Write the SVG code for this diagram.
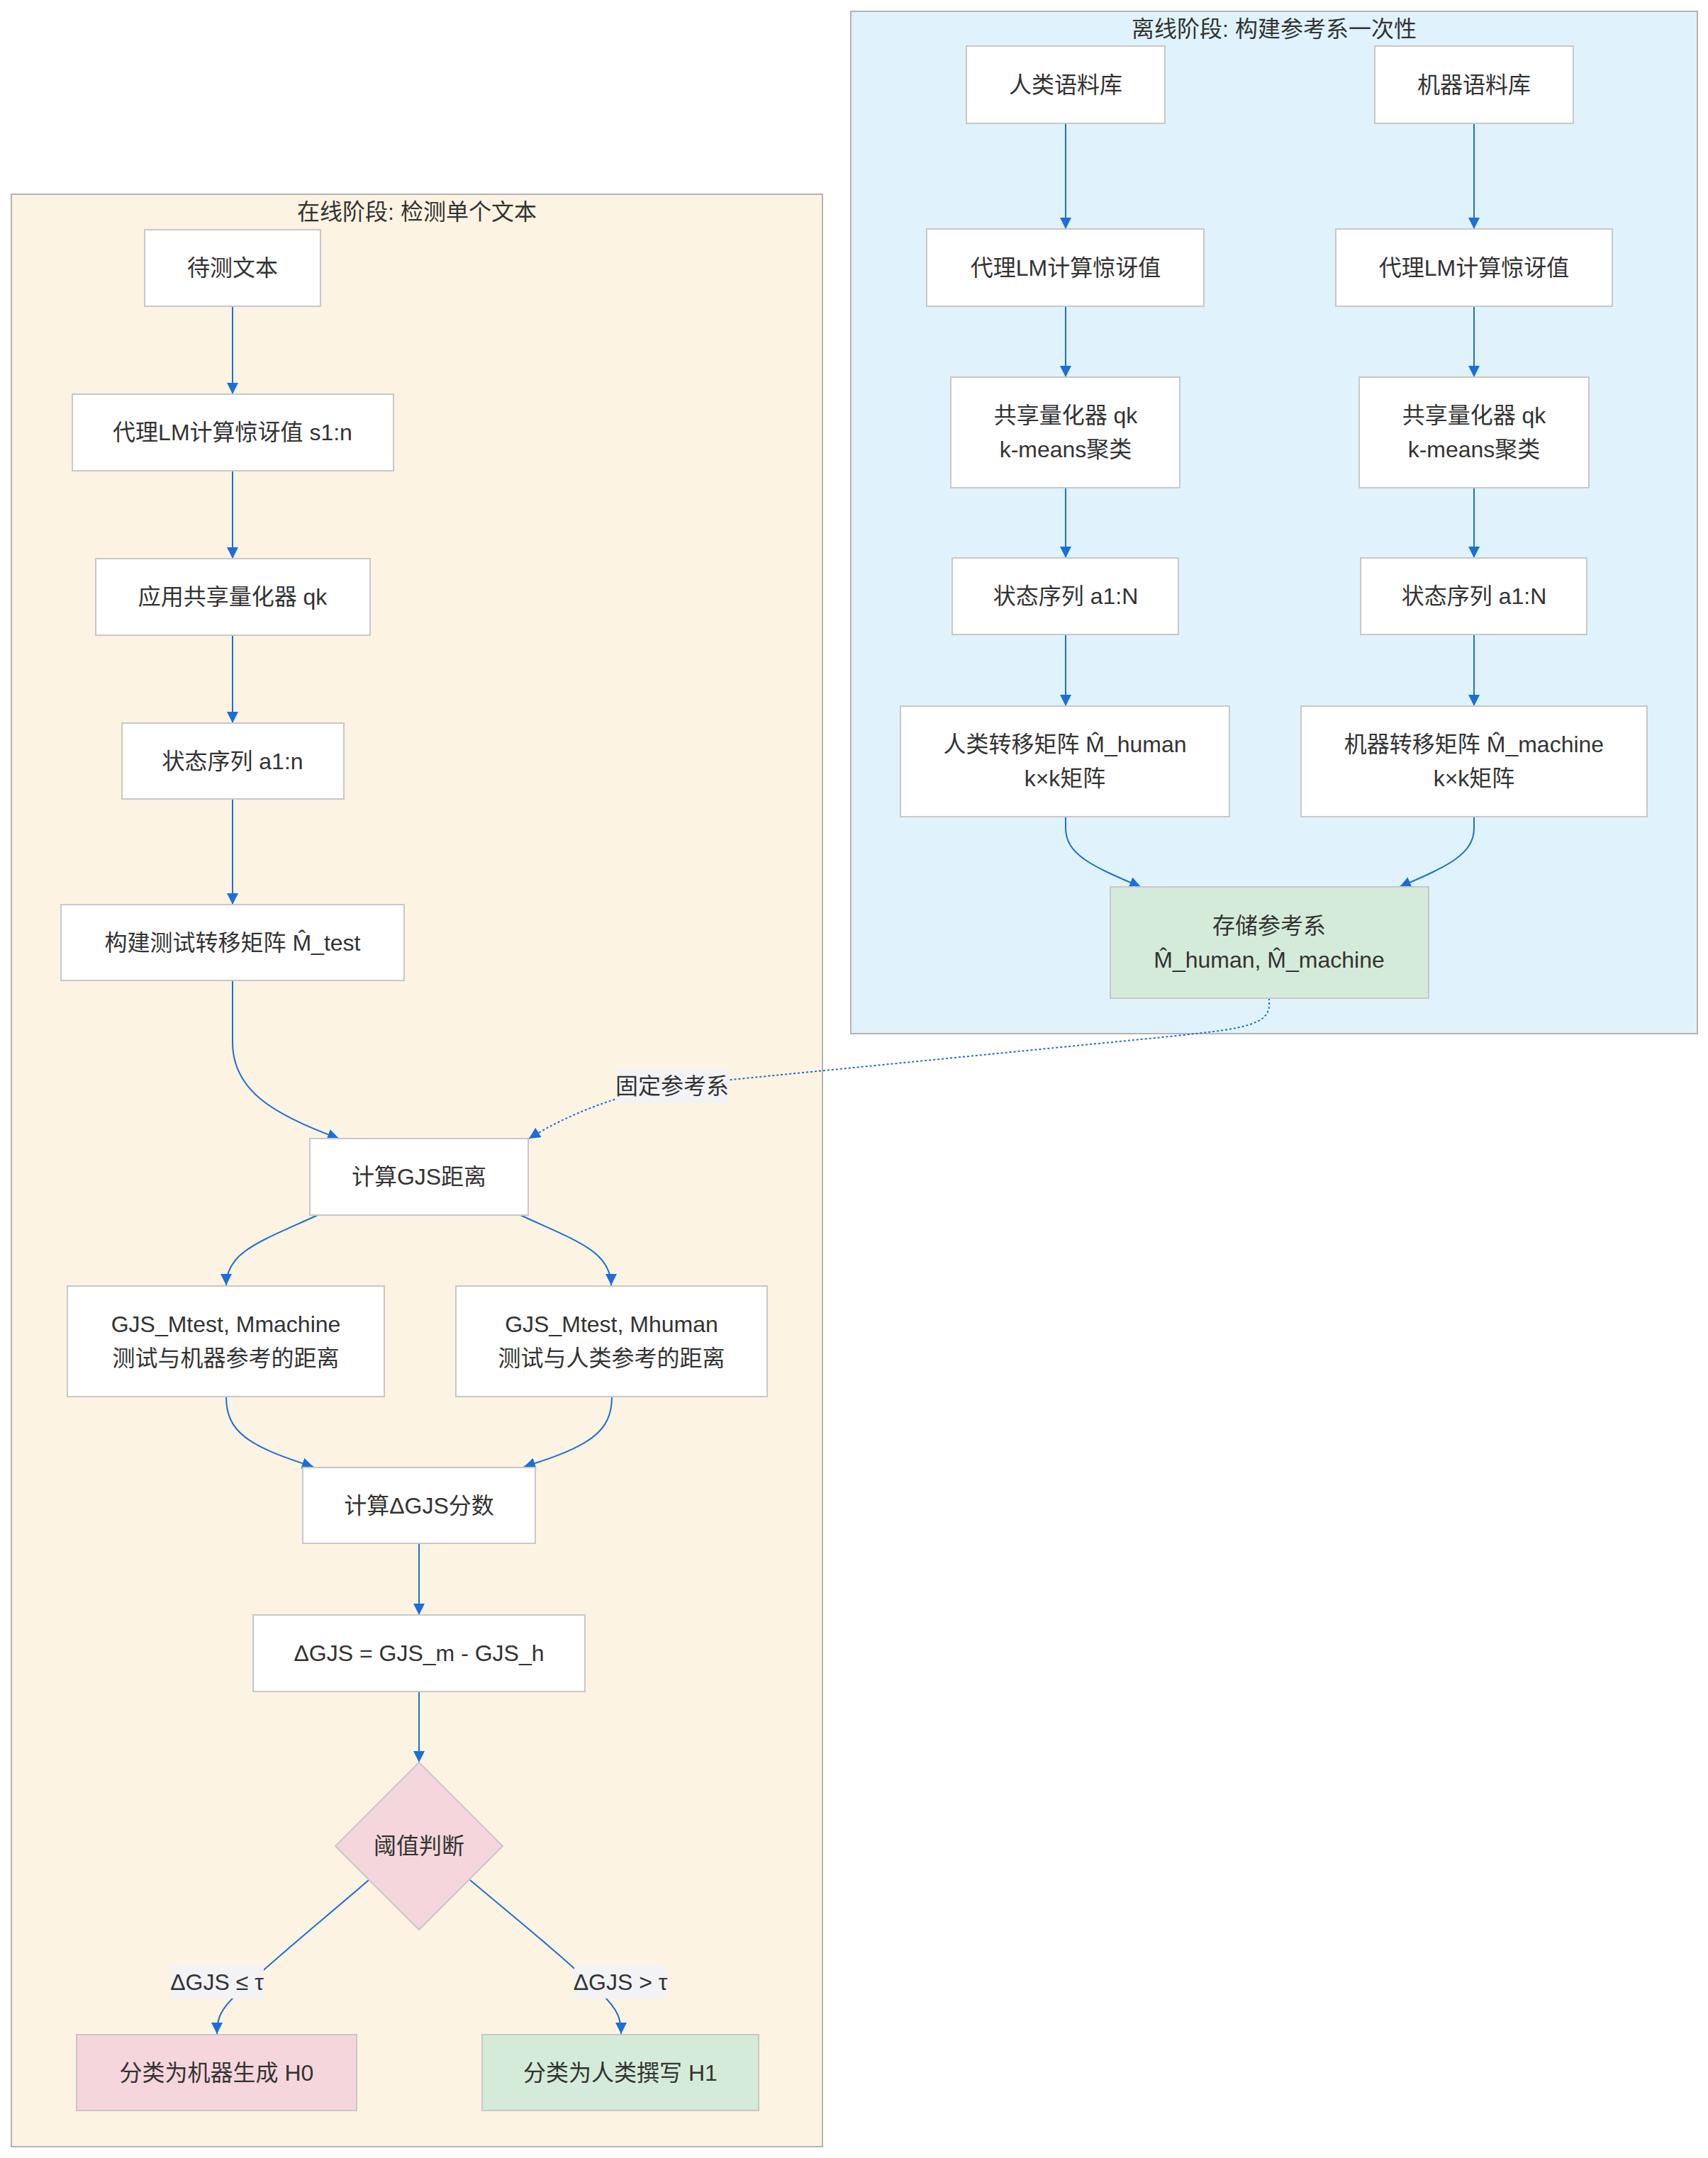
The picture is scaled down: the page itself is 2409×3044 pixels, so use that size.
<svg xmlns="http://www.w3.org/2000/svg" width="2409" height="3044" viewBox="0 0 2409 3044">
<style>
text{font-family:"Liberation Sans","Noto Sans CJK SC",sans-serif;font-size:32px;fill:#333;text-anchor:middle;dominant-baseline:central}
.node rect,.node polygon{fill:#fff;stroke:#c8c8c8;stroke-width:2}
.node.green rect{fill:#d5ebd9}
.node.pink rect,.node.pink polygon{fill:#f5d6dc}
.cluster rect{stroke:#b4b4b4;stroke-width:2}
.edge{fill:none;stroke:#1a6fd9;stroke-width:2;marker-end:url(#arr)}
.dot{stroke-dasharray:3 3}
.lbl rect{fill:#f3f3f5}
</style>
<defs>
<marker id="arr" viewBox="0 0 10 10" refX="10" refY="5" markerWidth="16" markerHeight="16" markerUnits="userSpaceOnUse" orient="auto">
<path d="M0,0 L10,5 L0,10 z" fill="#1a6fd9"/>
</marker>
</defs>
<rect width="2409" height="3044" fill="#fff"/>
<g id="cluster-offline" class="cluster"><rect x="1200" y="16" width="1194" height="1442" fill="#e0f3fc"/><text x="1797" y="41">离线阶段: 构建参考系一次性</text></g>
<g id="cluster-online" class="cluster"><rect x="16" y="274" width="1144" height="2754" fill="#fdf3e2"/><text x="588" y="299">在线阶段: 检测单个文本</text></g>

<g id="edges">
<path class="edge" d="M1503,174 L1503,323"/>
<path class="edge" d="M1503,432 L1503,532"/>
<path class="edge" d="M1503,688 L1503,787"/>
<path class="edge" d="M1503,895 L1503,996"/>
<path class="edge" d="M2079,174 L2079,323"/>
<path class="edge" d="M2079,432 L2079,532"/>
<path class="edge" d="M2079,688 L2079,787"/>
<path class="edge" d="M2079,895 L2079,996"/>
<path class="edge" d="M1503,1152 L1503,1168 C1503,1205 1540,1222 1609,1251"/>
<path class="edge" d="M2079,1152 L2079,1168 C2079,1205 2042,1222 1974,1251"/>
<path class="edge dot" d="M1790,1408 L1790,1418 C1790,1448 1740,1452 1660,1461 L960,1530 C880,1540 800,1572 746,1606"/>
<path class="edge" d="M328,432 L328,556"/>
<path class="edge" d="M328,664 L328,788"/>
<path class="edge" d="M328,896 L328,1020"/>
<path class="edge" d="M328,1127 L328,1276"/>
<path class="edge" d="M328,1383 L328,1470 C328,1538 385,1572 478,1606"/>
<path class="edge" d="M448,1714 C370,1750 319,1765 319,1813"/>
<path class="edge" d="M734,1714 C812,1750 862,1765 862,1813"/>
<path class="edge" d="M319,1970 C319,2020 350,2040 442,2069"/>
<path class="edge" d="M863,1970 C863,2020 832,2040 739,2069"/>
<path class="edge" d="M591,2177 L591,2278"/>
<path class="edge" d="M591,2386 L591,2486"/>
<path class="edge" d="M520,2652 C455,2708 385,2765 335,2812 C310,2835 306,2848 306,2869"/>
<path class="edge" d="M663,2652 C730,2708 800,2765 848,2812 C872,2835 876,2848 876,2869"/>
<g class="lbl"><rect x="869" y="1508" width="159" height="48"/><text x="948" y="1532">固定参考系</text></g>
<g class="lbl"><rect x="240" y="2772" width="132" height="47"/><text x="306" y="2796">ΔGJS ≤ τ</text></g>
<g class="lbl"><rect x="810" y="2772" width="130" height="47"/><text x="875" y="2796">ΔGJS &gt; τ</text></g>
</g>

<g id="n-human-corpus" class="node"><rect x="1363" y="65" width="280" height="109"/><text x="1503" y="119.5">人类语料库</text></g>
<g id="n-machine-corpus" class="node"><rect x="1939" y="65" width="280" height="109"/><text x="2079" y="119.5">机器语料库</text></g>
<g id="n-human-lm" class="node"><rect x="1307" y="323" width="391" height="109"/><text x="1503" y="377.5">代理LM计算惊讶值</text></g>
<g id="n-machine-lm" class="node"><rect x="1884" y="323" width="390" height="109"/><text x="2079" y="377.5">代理LM计算惊讶值</text></g>
<g id="n-human-q" class="node"><rect x="1341" y="532" width="323" height="156"/><text x="1503" y="586">共享量化器 qk</text><text x="1503" y="634">k-means聚类</text></g>
<g id="n-machine-q" class="node"><rect x="1917" y="532" width="324" height="156"/><text x="2079" y="586">共享量化器 qk</text><text x="2079" y="634">k-means聚类</text></g>
<g id="n-human-seq" class="node"><rect x="1343" y="787" width="319" height="108"/><text x="1503" y="841">状态序列 a1:N</text></g>
<g id="n-machine-seq" class="node"><rect x="1919" y="787" width="319" height="108"/><text x="2079" y="841">状态序列 a1:N</text></g>
<g id="n-human-m" class="node"><rect x="1270" y="996" width="464" height="156"/><text x="1502" y="1050">人类转移矩阵 M̂_human</text><text x="1502" y="1098">k×k矩阵</text></g>
<g id="n-machine-m" class="node"><rect x="1835" y="996" width="488" height="156"/><text x="2079" y="1050">机器转移矩阵 M̂_machine</text><text x="2079" y="1098">k×k矩阵</text></g>
<g id="n-store" class="node green"><rect x="1566" y="1251" width="449" height="157"/><text x="1790" y="1306">存储参考系</text><text x="1790" y="1354">M̂_human, M̂_machine</text></g>

<g id="n-text" class="node"><rect x="204" y="324" width="248" height="108"/><text x="328" y="378">待测文本</text></g>
<g id="n-lm" class="node"><rect x="102" y="556" width="453" height="108"/><text x="328" y="610">代理LM计算惊讶值 s1:n</text></g>
<g id="n-q" class="node"><rect x="135" y="788" width="387" height="108"/><text x="328" y="842">应用共享量化器 qk</text></g>
<g id="n-seq" class="node"><rect x="172" y="1020" width="313" height="107"/><text x="328" y="1073.5">状态序列 a1:n</text></g>
<g id="n-mtest" class="node"><rect x="86" y="1276" width="484" height="107"/><text x="328" y="1329.5">构建测试转移矩阵 M̂_test</text></g>
<g id="n-gjs" class="node"><rect x="437" y="1606" width="308" height="108"/><text x="591" y="1660">计算GJS距离</text></g>
<g id="n-gjs-m" class="node"><rect x="95" y="1814" width="447" height="156"/><text x="318.5" y="1868">GJS_Mtest, Mmachine</text><text x="318.5" y="1916">测试与机器参考的距离</text></g>
<g id="n-gjs-h" class="node"><rect x="643" y="1814" width="439" height="156"/><text x="862.5" y="1868">GJS_Mtest, Mhuman</text><text x="862.5" y="1916">测试与人类参考的距离</text></g>
<g id="n-dscore" class="node"><rect x="427" y="2070" width="328" height="107"/><text x="591" y="2123.5">计算ΔGJS分数</text></g>
<g id="n-dformula" class="node"><rect x="357" y="2278" width="468" height="108"/><text x="591" y="2332">ΔGJS = GJS_m - GJS_h</text></g>
<g id="n-thresh" class="node pink"><polygon points="591,2486 709,2604 591,2722 473,2604"/><text x="591" y="2604">阈值判断</text></g>
<g id="n-h0" class="node pink"><rect x="108" y="2870" width="395" height="107"/><text x="305.5" y="2923.5">分类为机器生成 H0</text></g>
<g id="n-h1" class="node green"><rect x="680" y="2870" width="390" height="107"/><text x="875" y="2923.5">分类为人类撰写 H1</text></g>
</svg>
